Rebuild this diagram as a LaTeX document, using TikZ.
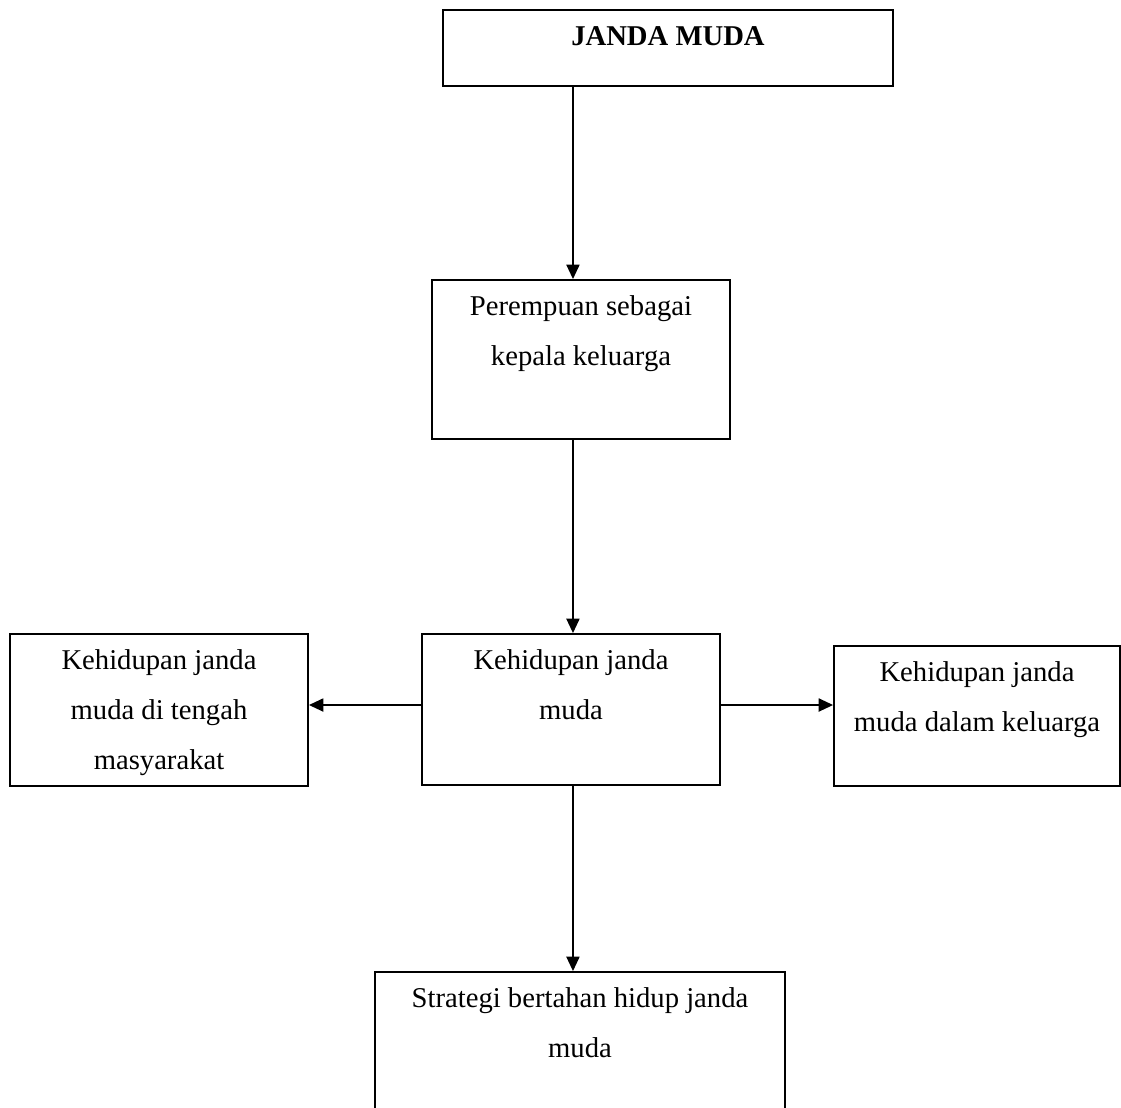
\documentclass[tikz,border=0pt]{standalone}
\usepackage{fontspec}
\setmainfont{Liberation Serif}
\usepackage{tikz}
\usetikzlibrary{arrows.meta}

\begin{document}
\begin{tikzpicture}[>={Triangle[length=6pt, width=5.5pt]},
    box/.style={draw, line width=0.8pt, fill=white, inner sep=0pt},
    boxtext/.style={anchor=base, align=center, inner sep=0pt, font=\fontsize{12}{20.86}\selectfont},
    link/.style={->, line width=0.6pt}]

\useasboundingbox (0, 0) rectangle (16.497, -16.305);
\clip (0, 0) rectangle (16.497, -16.305);

\coordinate (spine) at (8.432, 0);
\coordinate (level) at (0, -10.375);

\node[box, minimum width=6.622cm, minimum height=1.119cm] (janda) at (9.830, -0.706) {};
\node[box, minimum width=4.386cm, minimum height=2.340cm] (kepala) at (8.550, -5.290) {};
\node[box, minimum width=4.386cm, minimum height=2.222cm] (hidup) at (8.403, -10.441) {};
\node[box, minimum width=4.386cm, minimum height=2.237cm] (masyarakat) at (2.340, -10.449) {};
\node[box, minimum width=4.209cm, minimum height=2.060cm] (keluarga) at (14.378, -10.537) {};
\node[box, minimum width=6.034cm, minimum height=2.296cm] (strategi) at (8.535, -15.452) {};

% base anchor sits on the last line: shift down 0.53cm + 0.736cm per extra line
\node[boxtext] (janda text) at ([yshift=-0.530cm] janda.north) {\textbf{JANDA MUDA}};
\node[boxtext] (kepala text) at ([yshift=-1.266cm] kepala.north) {Perempuan sebagai\\kepala keluarga};
\node[boxtext] (hidup text) at ([yshift=-1.266cm] hidup.north) {Kehidupan janda\\muda};
\node[boxtext] (masyarakat text) at ([yshift=-2.002cm] masyarakat.north) {Kehidupan janda\\muda di tengah\\masyarakat};
\node[boxtext] (keluarga text) at ([yshift=-1.266cm] keluarga.north) {Kehidupan janda\\muda dalam keluarga};
\node[boxtext] (strategi text) at ([yshift=-1.266cm] strategi.north) {Strategi bertahan hidup janda\\muda};

\draw[link] (janda.south -| spine) -- (kepala.north -| spine);
\draw[link] (kepala.south -| spine) -- (hidup.north -| spine);
\draw[link] (hidup.south -| spine) -- (strategi.north -| spine);
\draw[link] (hidup.west |- level) -- (masyarakat.east |- level);
\draw[link] (hidup.east |- level) -- (keluarga.west |- level);

\end{tikzpicture}
\end{document}
